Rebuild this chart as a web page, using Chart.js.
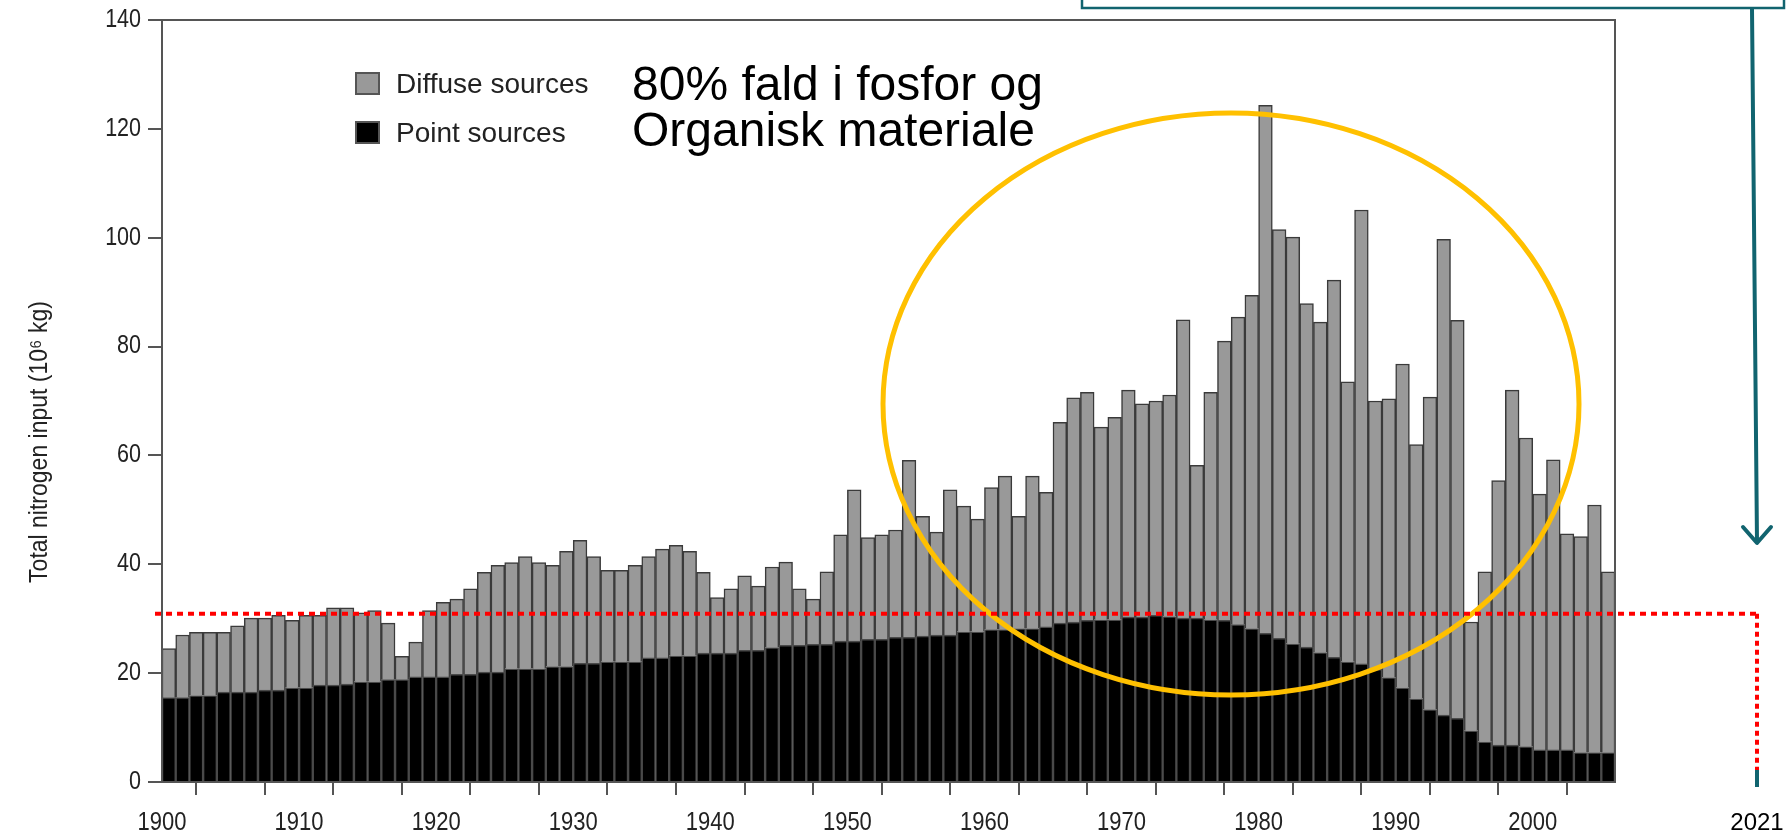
<!DOCTYPE html>
<html>
<head>
<meta charset="utf-8">
<script src="https://cdn.jsdelivr.net/npm/chart.js@4.4.1/dist/chart.umd.min.js"></script>
<style>
  html, body { margin: 0; padding: 0; background: #fff; }
  #wrap { width: 1789px; height: 836px; position: relative; }
</style>
</head>
<body>
<div id="wrap"><canvas id="NitrogenChart"></canvas></div>
<script>
// years 1900-2005, one bar per year
var years = [
  1900,1901,1902,1903,1904,1905,1906,1907,1908,1909,
  1910,1911,1912,1913,1914,1915,1916,1917,1918,1919,
  1920,1921,1922,1923,1924,1925,1926,1927,1928,1929,
  1930,1931,1932,1933,1934,1935,1936,1937,1938,1939,
  1940,1941,1942,1943,1944,1945,1946,1947,1948,1949,
  1950,1951,1952,1953,1954,1955,1956,1957,1958,1959,
  1960,1961,1962,1963,1964,1965,1966,1967,1968,1969,
  1970,1971,1972,1973,1974,1975,1976,1977,1978,1979,
  1980,1981,1982,1983,1984,1985,1986,1987,1988,1989,
  1990,1991,1992,1993,1994,1995,1996,1997,1998,1999,
  2000,2001,2002,2003,2004,2005
];

// total input (top of the grey bar), 10^6 kg
var totalInput = [
  24.5,27.0,27.5,27.5,27.5,28.7,30.1,30.1,30.6,29.7,
  30.6,30.6,32.0,32.0,31.1,31.5,29.2,23.1,25.7,31.5,
  33.0,33.6,35.5,38.5,39.8,40.3,41.4,40.3,39.8,42.4,
  44.4,41.4,38.9,38.9,39.8,41.4,42.8,43.5,42.4,38.5,
  33.9,35.5,37.9,36.0,39.5,40.4,35.5,33.6,38.6,45.4,
  53.7,44.9,45.4,46.3,59.1,48.8,45.9,53.7,50.7,48.3,
  54.1,56.2,48.8,56.2,53.2,66.1,70.6,71.6,65.2,67.0,
  72.0,69.5,70.0,71.1,84.9,58.2,71.6,81.0,85.4,89.4,
  124.3,101.5,100.1,87.9,84.5,92.2,73.5,105.1,70.0,70.4,
  76.8,62.0,70.7,99.7,84.8,29.4,38.6,55.4,72.0,63.2,
  52.9,59.2,45.6,45.1,50.9,38.6
];

// point sources (black part)
var pointSources = [
  15.5,15.5,15.9,15.9,16.5,16.5,16.5,16.9,16.9,17.3,
  17.3,17.8,17.8,18.0,18.4,18.4,18.8,18.8,19.3,19.3,
  19.3,19.8,19.8,20.2,20.2,20.8,20.8,20.8,21.2,21.2,
  21.8,21.8,22.1,22.1,22.1,22.8,22.8,23.2,23.2,23.7,
  23.7,23.7,24.2,24.2,24.7,25.1,25.1,25.3,25.3,25.9,
  25.9,26.2,26.2,26.6,26.6,26.8,27.0,27.0,27.6,27.6,
  28.0,28.0,28.2,28.2,28.5,29.2,29.4,29.7,29.8,29.8,
  30.3,30.3,30.6,30.4,30.1,30.1,29.8,29.7,28.9,28.2,
  27.3,26.4,25.4,24.8,23.8,22.9,22.1,21.7,20.7,19.2,
  17.3,15.3,13.3,12.3,11.7,9.4,7.4,6.8,6.8,6.5,
  5.9,5.9,5.9,5.4,5.4,5.4
];

var yTicks = [0, 20, 40, 60, 80, 100, 120, 140];
var refLevel = 30.9;       // red dotted line (level reached 2021)
var refYearLabel = '2021';
var seriesLabels = ['Point sources', 'Diffuse sources'];
var yTitle = 'Total nitrogen input (10\u2076 kg)';
var noteLines = ['80% fald i fosfor og', 'Organisk materiale'];

var FONT = "'Liberation Sans', Arial, Helvetica, sans-serif";
Chart.defaults.font.family = FONT;

var pointData = [];
var diffuseData = [];
for (var i = 0; i < years.length; i++) {
  pointData.push({x: years[i] + 0.5, y: pointSources[i]});
  diffuseData.push({x: years[i] + 0.5, y: +(totalInput[i] - pointSources[i]).toFixed(1)});
}

// the original axis text is a bit condensed, so squeeze it horizontally
function narrowText(ctx, txt, x, y, size, align, sx) {
  ctx.save();
  ctx.translate(x, y);
  ctx.scale(sx, 1);
  ctx.font = size + 'px ' + FONT;
  ctx.textAlign = align;
  ctx.textBaseline = 'middle';
  ctx.fillText(txt, 0, 0);
  ctx.restore();
}

var extras = {
  id: 'extras',
  afterDraw: function(chart) {
    var ctx = chart.ctx;
    var a = chart.chartArea;
    var xs = chart.scales.x;
    var ys = chart.scales.y;
    ctx.save();

    // plot frame
    ctx.strokeStyle = '#555';
    ctx.lineWidth = 2;
    ctx.strokeRect(a.left, a.top, a.right - a.left, a.bottom - a.top);

    // tick labels
    ctx.fillStyle = '#222';
    xs.ticks.forEach(function(t) {
      if (t.value % 10 === 0) narrowText(ctx, String(t.value), xs.getPixelForValue(t.value), 823, 25, 'center', 0.88);
    });
    ys.ticks.forEach(function(t) {
      narrowText(ctx, String(t.value), 141, ys.getPixelForValue(t.value), 25, 'right', 0.86);
    });

    // y axis title
    ctx.save();
    ctx.translate(40, 442);
    ctx.rotate(-Math.PI / 2);
    narrowText(ctx, yTitle, 0, 0, 25, 'center', 0.92);
    ctx.restore();

    // legend (top-down: diffuse, point)
    var ds = chart.data.datasets;
    var order = [1, 0];
    ctx.font = '28px ' + FONT;
    ctx.textBaseline = 'alphabetic';
    ctx.textAlign = 'left';
    for (var k = 0; k < order.length; k++) {
      var d = ds[order[k]];
      var top = 73 + k * 49;
      ctx.fillStyle = d.backgroundColor;
      ctx.fillRect(356, top, 23, 21);
      ctx.strokeStyle = '#555';
      ctx.lineWidth = 2;
      ctx.strokeRect(356, top, 23, 21);
      ctx.fillStyle = '#222';
      ctx.fillText(d.label, 396, top + 20);
    }

    // note text
    ctx.fillStyle = '#000';
    ctx.font = '48px ' + FONT;
    ctx.fillText(noteLines[0], 632, 100);
    ctx.fillText(noteLines[1], 632, 146);

    // yellow ellipse
    ctx.strokeStyle = '#FFC000';
    ctx.lineWidth = 5;
    ctx.beginPath();
    ctx.ellipse(1231, 404, 348, 291, 0, 0, Math.PI * 2);
    ctx.stroke();

    // red dotted reference line
    var ry = ys.getPixelForValue(refLevel);
    var y0 = ys.getPixelForValue(0);
    ctx.strokeStyle = '#FF0000';
    ctx.lineWidth = 4;
    ctx.setLineDash([6, 5]);
    ctx.beginPath();
    ctx.moveTo(155, ry);
    ctx.lineTo(1757, ry);
    ctx.stroke();
    ctx.setLineDash([5, 4]);
    ctx.beginPath();
    ctx.moveTo(1757, ry);
    ctx.lineTo(1757, y0 - 12);
    ctx.stroke();
    ctx.setLineDash([]);

    // teal bits
    var teal = '#11646f';
    ctx.strokeStyle = teal;
    ctx.lineWidth = 4;
    ctx.beginPath();
    ctx.moveTo(1757, y0 - 12);
    ctx.lineTo(1757, y0 + 5);
    ctx.stroke();

    ctx.lineWidth = 2.5;
    ctx.strokeRect(1082, -30, 1784 - 1082, 38);

    ctx.lineWidth = 4;
    ctx.lineCap = 'round';
    ctx.lineJoin = 'round';
    ctx.beginPath();
    ctx.moveTo(1752, 9);
    ctx.lineTo(1757, 542);
    ctx.stroke();
    ctx.beginPath();
    ctx.moveTo(1743, 527);
    ctx.lineTo(1757, 543);
    ctx.lineTo(1771, 527);
    ctx.stroke();

    // year label under the reference line
    ctx.fillStyle = '#000';
    ctx.font = '24px ' + FONT;
    ctx.textAlign = 'center';
    ctx.textBaseline = 'middle';
    ctx.fillText(refYearLabel, 1757, 823);

    ctx.restore();
  }
};

var chart = new Chart(document.getElementById('NitrogenChart').getContext('2d'), {
  type: 'bar',
  data: {
    datasets: [{
      label: seriesLabels[0],
      data: pointData,
      backgroundColor: '#000000',
      borderColor: '#4a4a4a',
      borderWidth: 1.5,
      barPercentage: 1,
      categoryPercentage: 1
    }, {
      label: seriesLabels[1],
      data: diffuseData,
      backgroundColor: '#999999',
      borderColor: '#3a3a3a',
      borderWidth: 1.5,
      barPercentage: 1,
      categoryPercentage: 1
    }]
  },
  options: {
    responsive: true,
    maintainAspectRatio: false,
    animation: false,
    layout: {padding: {top: 20, right: 174, bottom: 0, left: 0}},
    plugins: {legend: {display: false}, tooltip: {enabled: false}},
    scales: {
      x: {
        type: 'linear',
        stacked: true,
        min: 1900,
        max: 2006,
        offset: false,
        border: {display: false},
        grid: {drawOnChartArea: false, tickLength: 13, color: '#555', lineWidth: 2},
        ticks: {
          stepSize: 5,
          includeBounds: false,
          autoSkip: false,
          maxRotation: 0,
          padding: 10,
          color: 'rgba(0,0,0,0)',
          font: {size: 22},
          callback: function(v) { return v % 10 === 0 ? String(v) : ''; }
        },
        afterFit: function(s) { s.height = 54; }
      },
      y: {
        stacked: true,
        min: yTicks[0],
        max: yTicks[yTicks.length - 1],
        border: {display: false},
        grid: {drawOnChartArea: false, tickLength: 14, color: '#555', lineWidth: 2},
        ticks: {stepSize: 20, padding: 5, color: 'rgba(0,0,0,0)', font: {size: 22}},
        afterFit: function(s) { s.width = 162; }
      }
    }
  },
  plugins: [extras]
});
</script>
</body>
</html>
